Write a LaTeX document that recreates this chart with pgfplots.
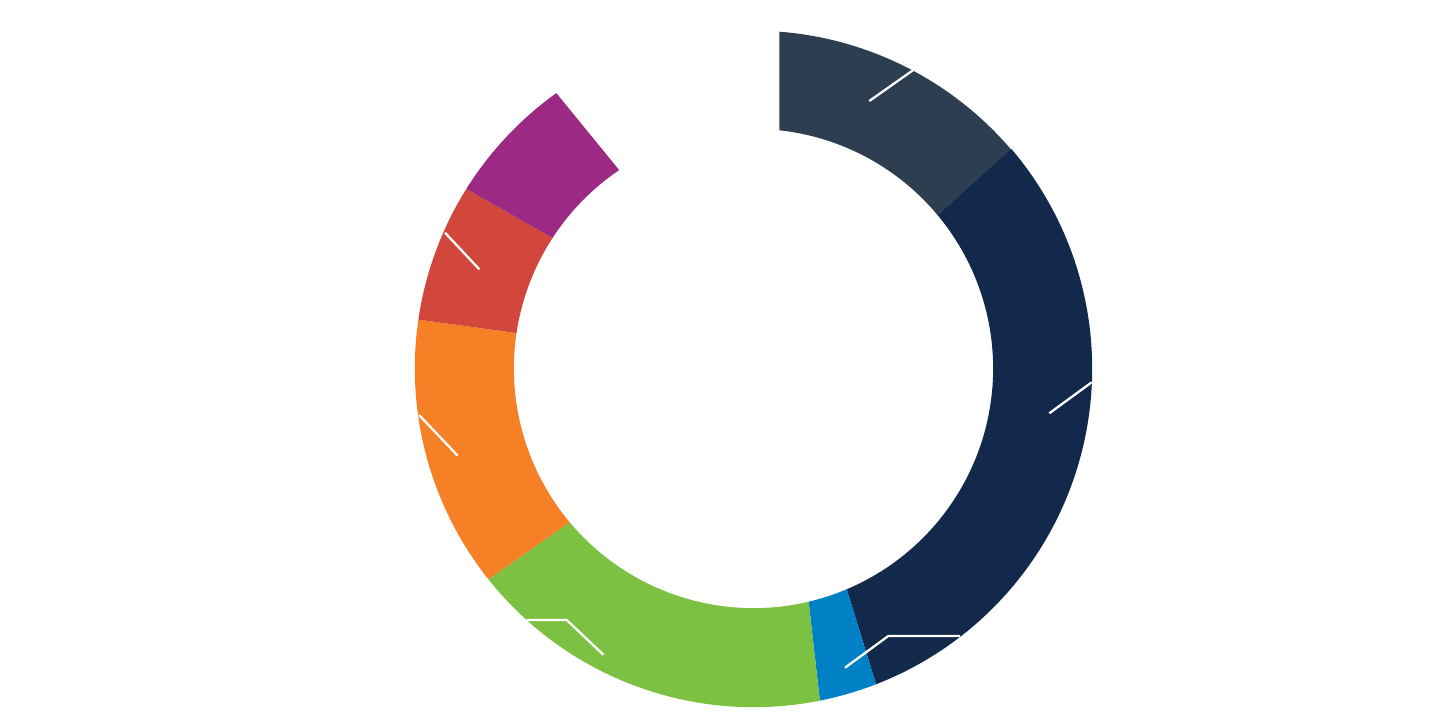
\documentclass[border=0pt]{standalone}
\usepackage{pgfplots}
\pgfplotsset{compat=1.18}
\usetikzlibrary{calc}
\definecolor{cslate}{HTML}{2D3E50}
\definecolor{cnavy}{HTML}{12294B}
\definecolor{cblue}{HTML}{0080C5}
\definecolor{cgreen}{HTML}{7DC142}
\definecolor{corange}{HTML}{F58026}
\definecolor{cred}{HTML}{D2473B}
\definecolor{cpurple}{HTML}{9C2A84}
% slice boundaries (degrees): outer angle / inner angle
\def\Ro{3.385cm}\def\Ri{2.395cm}
\begin{document}
\begin{tikzpicture}
\begin{axis}[x=0.01cm,y=0.01cm,xmin=0,xmax=1431,ymin=0,ymax=707,hide axis,clip=false]
\addplot[draw=none,forget plot] coordinates {(0,0) (1431,707)};
% slate (first slice, straight left edge)
\fill[cslate] (axis cs:779.3,675.3) arc[start angle=85.62,end angle=40.4,radius=\Ro]
  -- ($(axis cs:753.5,338.5)+(39.8:\Ri)$) arc[start angle=39.8,end angle=83.83,radius=\Ri] -- cycle;
% navy
\fill[cnavy] ($(axis cs:753.5,338.5)+(40.4:\Ro)$) arc[start angle=40.4,end angle=-68.8,radius=\Ro]
  -- ($(axis cs:753.5,338.5)+(-67.1:\Ri)$) arc[start angle=-67.1,end angle=39.8,radius=\Ri] -- cycle;
% blue
\fill[cblue] ($(axis cs:753.5,338.5)+(-68.8:\Ro)$) arc[start angle=-68.8,end angle=-78.7,radius=\Ro]
  -- ($(axis cs:753.5,338.5)+(-76.7:\Ri)$) arc[start angle=-76.7,end angle=-67.1,radius=\Ri] -- cycle;
% green
\fill[cgreen] ($(axis cs:753.5,338.5)+(-78.7:\Ro)$) arc[start angle=-78.7,end angle=-141.5,radius=\Ro]
  -- ($(axis cs:753.5,338.5)+(-140.1:\Ri)$) arc[start angle=-140.1,end angle=-76.7,radius=\Ri] -- cycle;
% orange
\fill[corange] ($(axis cs:753.5,338.5)+(218.5:\Ro)$) arc[start angle=218.5,end angle=171.7,radius=\Ro]
  -- ($(axis cs:753.5,338.5)+(171.5:\Ri)$) arc[start angle=171.5,end angle=219.9,radius=\Ri] -- cycle;
% red
\fill[cred] ($(axis cs:753.5,338.5)+(171.7:\Ro)$) arc[start angle=171.7,end angle=148,radius=\Ro]
  -- ($(axis cs:753.5,338.5)+(147:\Ri)$) arc[start angle=147,end angle=171.5,radius=\Ri] -- cycle;
% purple
\fill[cpurple] ($(axis cs:753.5,338.5)+(148:\Ro)$) arc[start angle=148,end angle=125.6,radius=\Ro]
  -- ($(axis cs:753.5,338.5)+(124.1:\Ri)$) arc[start angle=124.1,end angle=147,radius=\Ri] -- cycle;
% leader lines
\addplot[white,line width=0.65pt] coordinates {(869.3,606) (913.3,637)};
\addplot[white,line width=0.65pt] coordinates {(1049.3,293.7) (1091.7,324.7)};
\addplot[white,line width=0.65pt] coordinates {(845,39.3) (888.3,71) (960,71)};
\addplot[white,line width=0.65pt] coordinates {(603.3,52.3) (566.7,87) (526.7,87)};
\addplot[white,line width=0.65pt] coordinates {(457.7,251.3) (419,292)};
\addplot[white,line width=0.65pt] coordinates {(479.3,437.7) (445,474.3)};
\end{axis}
\end{tikzpicture}
\end{document}
